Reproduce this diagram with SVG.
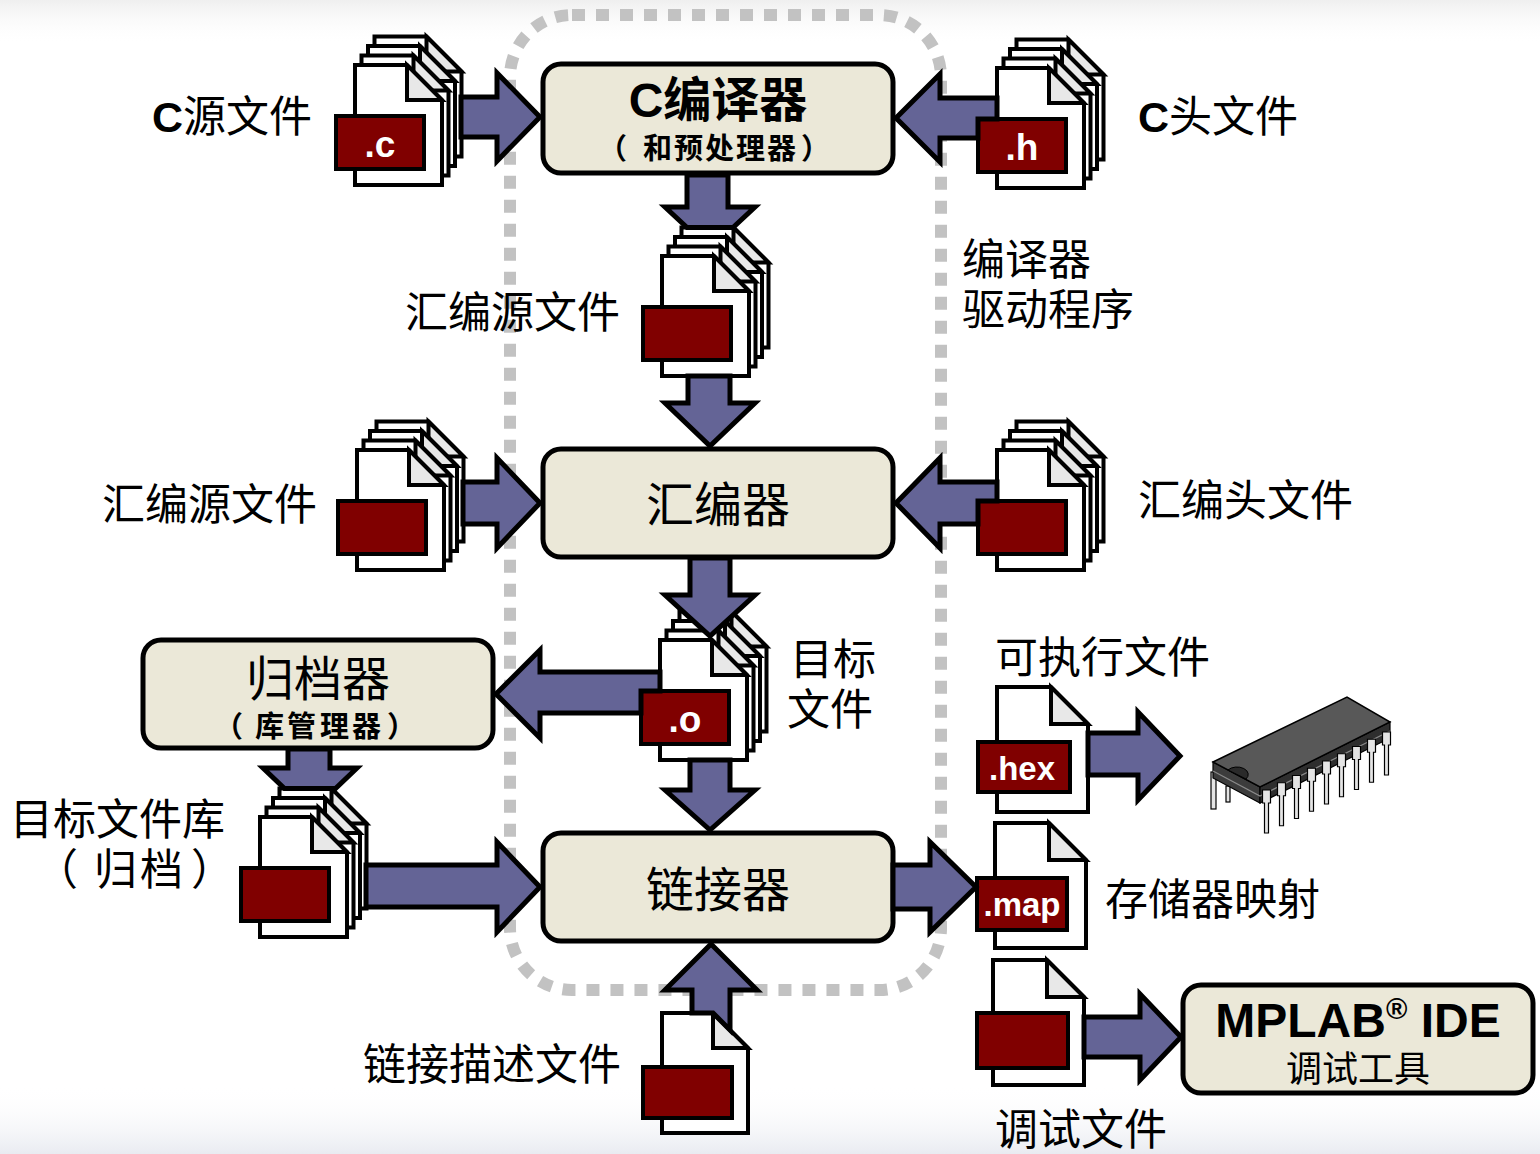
<svg xmlns="http://www.w3.org/2000/svg" xmlns:xlink="http://www.w3.org/1999/xlink" width="1540" height="1154" viewBox="0 0 1540 1154">
  <style>
    .t { font-family: 'Liberation Sans', 'Noto Sans CJK SC', sans-serif; font-size: 43px; fill: #000; }
    .tb { font-family: 'Liberation Sans', 'Noto Sans CJK SC', sans-serif; font-size: 48px; fill: #000; text-anchor: middle; }
    .ts { font-family: 'Liberation Sans', 'Noto Sans CJK SC', sans-serif; font-size: 29px; font-weight: bold; fill: #000; }
    .box { fill: #ebe8d8; stroke: #000; stroke-width: 5; }
    .page { fill: #fff; stroke: #000; stroke-width: 4; stroke-linejoin: miter; }
    .fold { fill: #e8e8e8; stroke: #000; stroke-width: 4; stroke-linejoin: miter; }
    .lbl { fill: #800000; stroke: #000; stroke-width: 4; }
    .ext { font-family: 'Liberation Sans', Arial, sans-serif; font-weight: bold; fill: #fff; text-anchor: middle; }
    .arr { fill: #646496; stroke: #000; stroke-width: 5; stroke-linejoin: miter; }
    .drv { fill: none; stroke: #c2c2c2; stroke-width: 12; stroke-dasharray: 13 11; }
    .pin { fill: #e4e4e4; stroke: #000; stroke-width: 1.2; }
  </style>
  <defs>
    <linearGradient id="topHaze" x1="0" y1="0" x2="0" y2="1">
      <stop offset="0" stop-color="#efefef"/>
      <stop offset="1" stop-color="#ffffff" stop-opacity="0"/>
    </linearGradient>
    <linearGradient id="botHaze" x1="0" y1="0" x2="0" y2="1">
      <stop offset="0" stop-color="#ffffff" stop-opacity="0"/>
      <stop offset="1" stop-color="#e9ebf1"/>
    </linearGradient>
    <!-- one page with a folded corner (stack size) -->
    <g id="pg">
      <path class="page" d="M0,0 H52 L87,35 V120 H0 Z"/>
      <path class="fold" d="M52,0 V35 H87 Z"/>
    </g>
    <!-- one page with a folded corner (single file size) -->
    <g id="pg2">
      <path class="page" d="M0,0 H54 L91,37 V125 H0 Z"/>
      <path class="fold" d="M54,0 V37 H91 Z"/>
    </g>
    <!-- four pages stacked, with the type label -->
    <g id="stk">
      <use xlink:href="#pg" x="19.5" y="-28.5"/>
      <use xlink:href="#pg" x="13" y="-19"/>
      <use xlink:href="#pg" x="6.5" y="-9.5"/>
      <use xlink:href="#pg"/>
      <rect class="lbl" x="-19" y="51" width="88" height="53"/>
    </g>
  </defs>

  <!-- background -->
  <rect width="1540" height="1154" fill="#fff"/>
  <rect width="1540" height="45" fill="url(#topHaze)"/>
  <rect y="1085" width="1540" height="69" fill="url(#botHaze)"/>

  <!-- compiler driver boundary -->
  <rect class="drv" x="510" y="15" width="431" height="975" rx="62"/>

  <!-- tools -->
  <g id="compiler">
    <rect class="box" x="543" y="64" width="350" height="109" rx="18"/>
    <text class="tb" x="718" y="117" font-weight="bold">C编译器</text>
    <text class="ts" x="598 643 674 705 736 767 801" y="159">（和预处理器）</text>
  </g>
  <g id="assembler">
    <rect class="box" x="543" y="449" width="350" height="108" rx="18"/>
    <text class="tb" x="718" y="522">汇编器</text>
  </g>
  <g id="linker">
    <rect class="box" x="543" y="833" width="350" height="108" rx="18"/>
    <text class="tb" x="718" y="907">链接器</text>
  </g>
  <g id="archiver">
    <rect class="box" x="143" y="640" width="350" height="108" rx="18"/>
    <text class="tb" x="318" y="696">归档器</text>
    <text class="ts" x="214 255 287 320 352 387" y="737">（库管理器）</text>
  </g>
  <g id="mplab">
    <rect class="box" x="1183" y="985" width="350" height="108" rx="18"/>
    <text class="tb" x="1358" y="1037" font-weight="bold" style="font-size:48px">MPLAB<tspan style="font-size:29px" dy="-18">®</tspan><tspan dy="18"> IDE</tspan></text>
    <text class="tb" x="1358" y="1082" style="font-size:36px">调试工具</text>
  </g>

  <!-- files -->
  <g id="c-src">
    <use xlink:href="#stk" x="355" y="65"/>
    <text class="ext" x="380" y="157" font-size="37">.c</text>
    <text class="t" x="152" y="132"><tspan font-weight="bold">C</tspan>源文件</text>
  </g>
  <g id="c-hdr">
    <use xlink:href="#stk" x="997" y="68"/>
    <text class="ext" x="1022" y="160" font-size="37">.h</text>
    <text class="t" x="1138" y="132"><tspan font-weight="bold">C</tspan>头文件</text>
  </g>
  <g id="asm-gen">
    <use xlink:href="#stk" x="662" y="256"/>
    <text class="t" x="405" y="328">汇编源文件</text>
  </g>
  <g id="asm-src">
    <use xlink:href="#stk" x="357" y="450"/>
    <text class="t" x="102" y="520">汇编源文件</text>
  </g>
  <g id="asm-hdr">
    <use xlink:href="#stk" x="997" y="450"/>
    <text class="t" x="1138" y="516">汇编头文件</text>
  </g>
  <g id="obj">
    <use xlink:href="#stk" x="660" y="640"/>
    <text class="ext" x="685" y="732" font-size="37">.o</text>
    <text class="t" x="790" y="675">目标</text>
    <text class="t" x="787" y="725">文件</text>
  </g>
  <g id="lib">
    <use xlink:href="#stk" x="260" y="817"/>
    <text class="t" x="10" y="835">目标文件库</text>
    <text class="t" x="35 94 140 191" y="885">（归档）</text>
  </g>
  <g id="hex">
    <use xlink:href="#pg2" x="997" y="687"/>
    <rect class="lbl" x="978" y="742" width="92" height="50"/>
    <text class="ext" x="1022" y="780" font-size="33">.hex</text>
    <text class="t" x="995" y="673">可执行文件</text>
  </g>
  <g id="map">
    <use xlink:href="#pg2" x="995" y="823"/>
    <rect class="lbl" x="977" y="878" width="90" height="52"/>
    <text class="ext" x="1022" y="916" font-size="33">.map</text>
    <text class="t" x="1105" y="915">存储器映射</text>
  </g>
  <g id="cof">
    <use xlink:href="#pg2" x="993" y="960"/>
    <rect class="lbl" x="977" y="1013" width="91" height="55"/>
    <text class="t" x="995" y="1145">调试文件</text>
  </g>
  <g id="lkr">
    <path class="page" d="M662,1013 H713 L748,1048 V1133 H662 Z"/>
    <path class="fold" d="M713,1013 V1048 H748 Z"/>
    <rect class="lbl" x="643" y="1067" width="89" height="51"/>
    <text class="t" x="363" y="1080">链接描述文件</text>
  </g>
  <g id="driver-label">
    <text class="t" x="962" y="275">编译器</text>
    <text class="t" x="962" y="325">驱动程序</text>
  </g>

  <!-- target device -->
  <g id="chip">
    <rect class="pin" x="1211" y="772" width="5" height="37"/>
    <rect class="pin" x="1226" y="786" width="4" height="16"/>
    <polygon points="1213,762 1260,787 1260,803 1213,778" fill="#3c3c3c" stroke="#000" stroke-width="1.2"/>
    <polygon points="1260,787 1390,722 1390,738 1260,803" fill="#2e2e2e" stroke="#000" stroke-width="1.2"/>
    <polyline points="1213,771 1260,796 1390,731" fill="none" stroke="#8a8a8a" stroke-width="1.2"/>
    <polygon points="1213,762 1347,697 1390,722 1260,787" fill="#585858" stroke="#000" stroke-width="1.5"/>
    <path d="M1228,770 A9,6 0 0 1 1246,779 Z" fill="#2a2a2a" stroke="#000" stroke-width="1"/>
    <g>
      <path class="pin" d="M1262.5,790 h8 v13 h-2 v30 h-4 v-30 h-2 Z"/>
      <path class="pin" d="M1277.5,782.75 h8 v13 h-2 v30 h-4 v-30 h-2 Z"/>
      <path class="pin" d="M1292.5,775.5 h8 v13 h-2 v30 h-4 v-30 h-2 Z"/>
      <path class="pin" d="M1307.5,768.25 h8 v13 h-2 v30 h-4 v-30 h-2 Z"/>
      <path class="pin" d="M1322.5,761 h8 v13 h-2 v30 h-4 v-30 h-2 Z"/>
      <path class="pin" d="M1337.5,753.75 h8 v13 h-2 v30 h-4 v-30 h-2 Z"/>
      <path class="pin" d="M1352.5,746.5 h8 v13 h-2 v30 h-4 v-30 h-2 Z"/>
      <path class="pin" d="M1367.5,739.25 h8 v13 h-2 v30 h-4 v-30 h-2 Z"/>
      <path class="pin" d="M1382.5,732 h8 v13 h-2 v30 h-4 v-30 h-2 Z"/>
    </g>
  </g>

  <!-- connectors -->
  <g id="connectors">
    <!-- .c -> compiler -->
    <path class="arr" d="M461,97 H497 V73 L540,117 L497,161 V137 H461 Z"/>
    <!-- .h -> compiler -->
    <path class="arr" d="M997,98 H940 V74 L896,118 L940,162 V138 H978 V119 H997 Z"/>
    <!-- compiler -> generated assembly -->
    <path class="arr" d="M687,175 V207 H665 L687,227.5 H733 L755,207 H728 V175 Z"/>
    <!-- generated assembly -> assembler -->
    <path class="arr" d="M688,376 V403 H665 L710,446 L755,403 H730 V376 Z"/>
    <!-- assembly source -> assembler -->
    <path class="arr" d="M463,482 H497 V458 L540,503 L497,548 V524 H463 Z"/>
    <!-- assembly header -> assembler -->
    <path class="arr" d="M997,482 H940 V458 L896,503 L940,548 V524 H978 V501 H997 Z"/>
    <!-- assembler -> object -->
    <path class="arr" d="M690,558 V595 H665 L710,636 L755,595 H730 V558 Z"/>
    <!-- object -> archiver -->
    <path class="arr" d="M660,672 H540 V650 L496,694 L540,738 V713 H641 V691 H660 Z"/>
    <!-- object -> linker -->
    <path class="arr" d="M690,760 V790 H665 L710,830 L755,790 H730 V760 Z"/>
    <!-- archiver -> library -->
    <path class="arr" d="M288,749 V768 H263 L284.5,788.5 H335.5 L357,768 H330 V749 Z"/>
    <!-- library -> linker -->
    <path class="arr" d="M366,865 H497 V842 L540,887 L497,932 V907 H366 Z"/>
    <!-- linker script -> linker -->
    <path class="arr" d="M692,1013 V990 H665 L711,944 L757,990 H730 V1030 L713,1013 Z"/>
    <!-- linker -> map -->
    <path class="arr" d="M893,865 H930 V842 L976,887 L930,932 V909 H893 Z"/>
    <!-- hex -> device -->
    <path class="arr" d="M1088,733 H1138 V712 L1180,756 L1138,800 V775 H1088 Z"/>
    <!-- debug file -> MPLAB IDE -->
    <path class="arr" d="M1084,1017 H1140 V994 L1181,1037 L1140,1080 V1057 H1084 Z"/>
  </g>
</svg>
